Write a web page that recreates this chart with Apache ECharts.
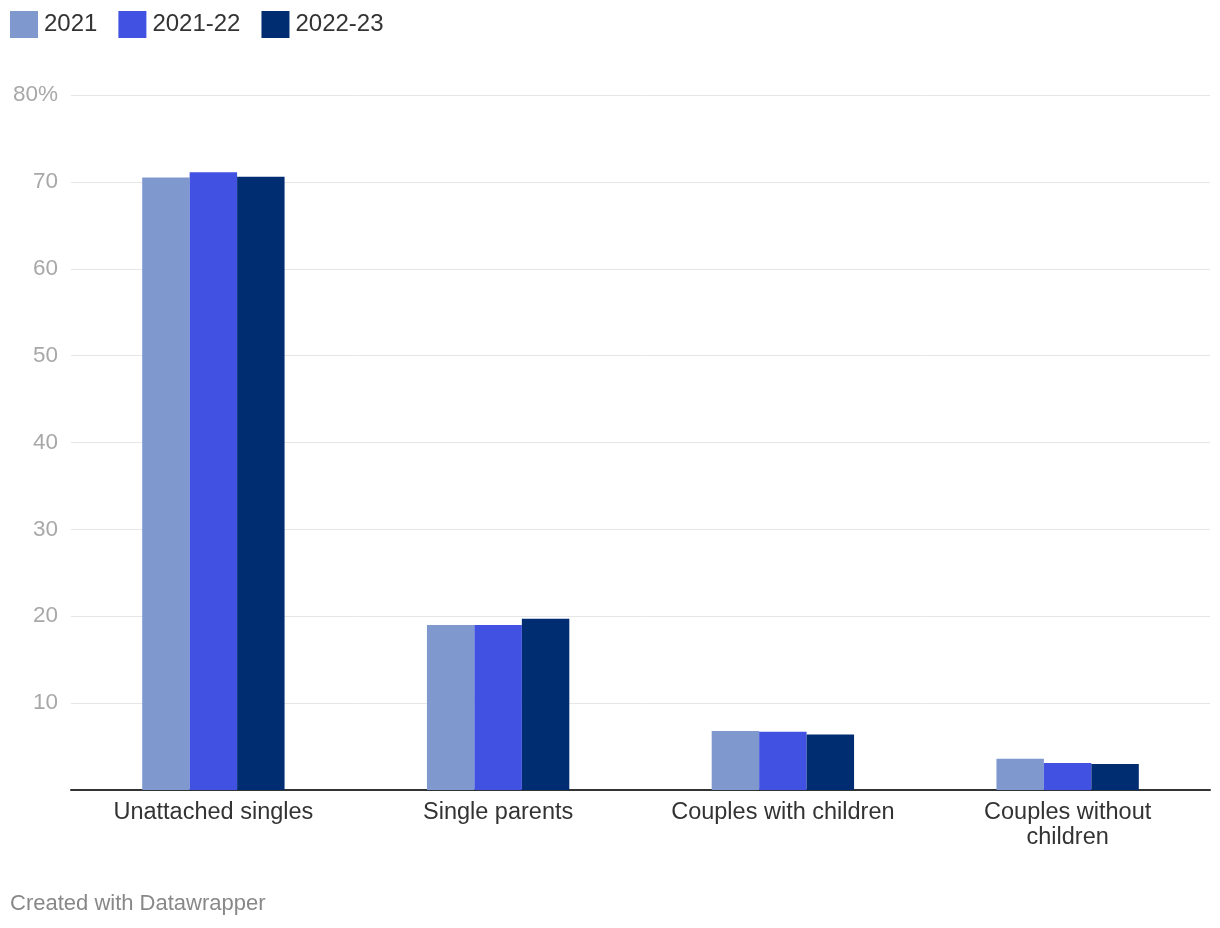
<!DOCTYPE html>
<html>
<head>
<meta charset="utf-8">
<script src="https://cdn.jsdelivr.net/npm/echarts@6/dist/echarts.min.js"></script>
<style>
html,body{margin:0;padding:0;background:#fff;}
#chart{width:1220px;height:928px;}
</style>
</head>
<body>
<div id="chart"></div>
<script>
const categories = ['Unattached singles', 'Single parents', 'Couples with children', 'Couples without\nchildren'];
const seriesNames = ['2021', '2021-22', '2022-23'];
const values2021 = [70.5, 19.0, 6.8, 3.6];
const values2122 = [71.1, 19.0, 6.7, 3.1];
const values2223 = [70.6, 19.7, 6.4, 3.0];
const colors = ['#7f99cf', '#4152e3', '#002d72'];
const yTicks = [0, 10, 20, 30, 40, 50, 60, 70, 80];

const FONT = '"Liberation Sans", Arial, Helvetica, sans-serif';
const chart = echarts.init(document.getElementById('chart'), null, {renderer: 'canvas'});
const allValues = [values2021, values2122, values2223];

chart.setOption({
  animation: false,
  textStyle: {fontFamily: FONT},
  legend: {
    left: 10, top: 11, padding: 0,
    itemWidth: 28, itemHeight: 27, itemGap: 21,
    icon: 'rect',
    textStyle: {fontFamily: FONT, fontSize: 24, color: '#333', padding: [2, 0, 0, 1]},
    data: seriesNames
  },
  grid: {left: 71, right: 10, top: 95, bottom: 138, containLabel: false},
  xAxis: {
    type: 'category',
    data: categories,
    axisLine: {show: true, lineStyle: {color: '#333', width: 2}},
    axisTick: {show: false},
    axisLabel: {fontFamily: FONT, fontSize: 23.5, color: '#333', margin: 10, lineHeight: 25, interval: 0}
  },
  yAxis: {
    type: 'value',
    min: yTicks[0], max: yTicks[yTicks.length - 1], interval: 10,
    axisLine: {show: false},
    axisTick: {show: false},
    splitLine: {lineStyle: {color: '#e6e6e6', width: 1}},
    axisLabel: {
      fontFamily: FONT, fontSize: 22.5, color: '#a8a8a8', margin: 13,
      padding: [3, 0, 0, 0],
      formatter: v => v === 0 ? '' : (v === 80 ? v + '%' : String(v))
    }
  },
  series: seriesNames.map((n, i) => ({
    name: n,
    type: 'bar',
    data: allValues[i],
    itemStyle: {color: colors[i]},
    barGap: '0%',
    barCategoryGap: '50%'
  })),
  graphic: [{
    type: 'text', left: 10, top: 893,
    style: {text: 'Created with Datawrapper', fontFamily: FONT, fontSize: 22, fill: '#888'}
  }]
});
</script>
</body>
</html>
